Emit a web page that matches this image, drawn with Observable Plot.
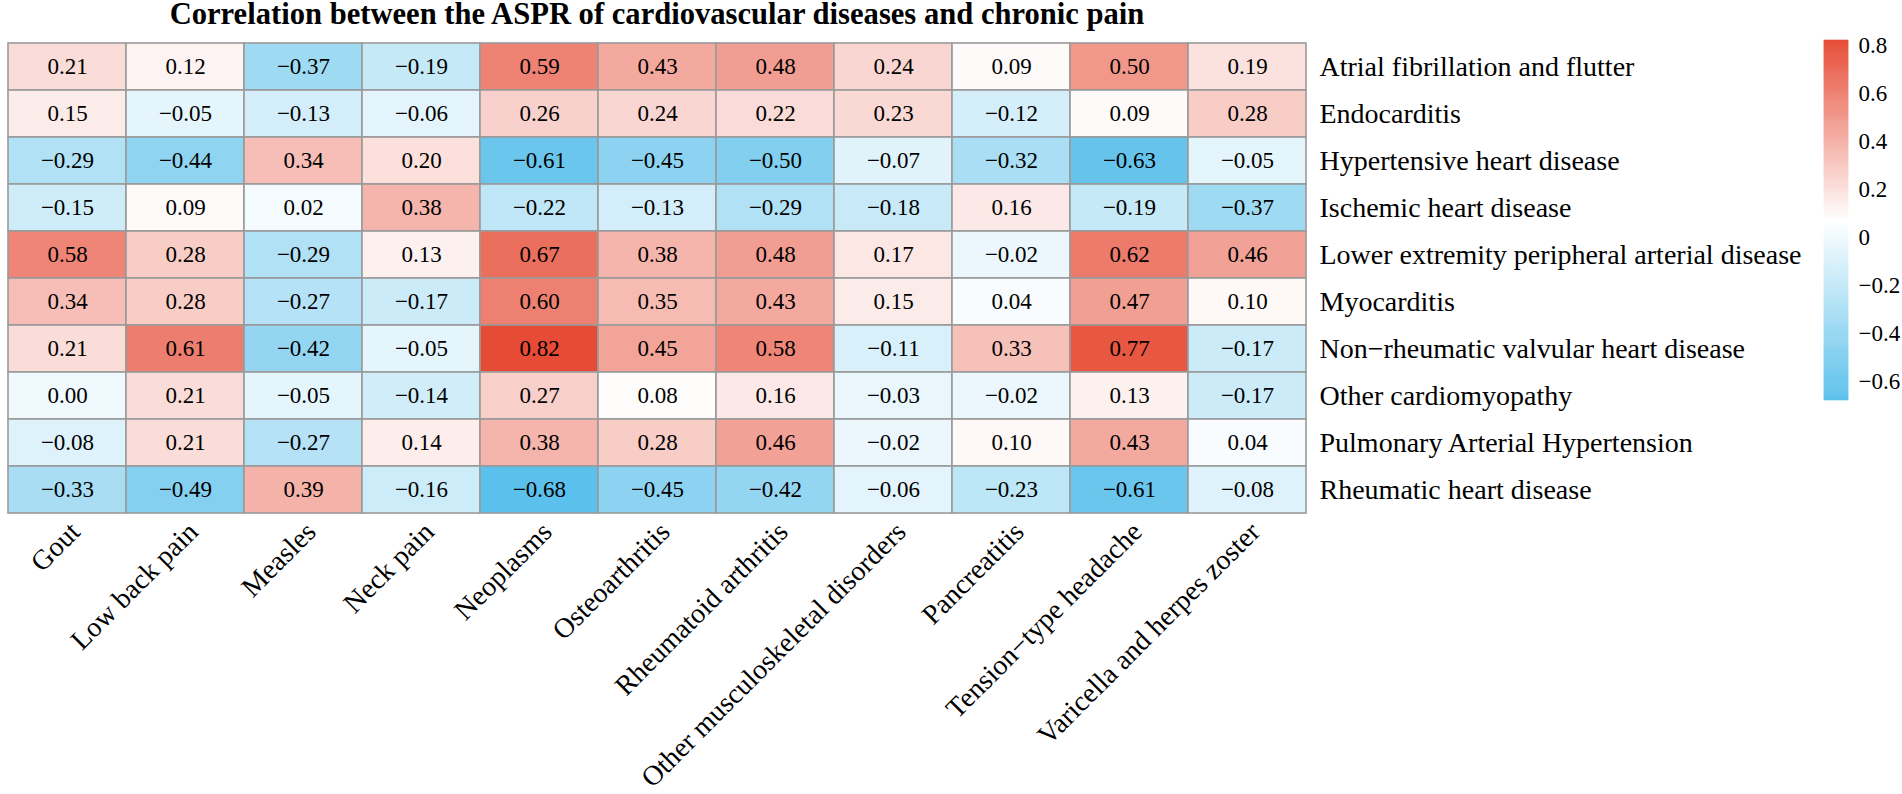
<!DOCTYPE html>
<html>
<head>
<meta charset="utf-8">
<script src="https://cdn.jsdelivr.net/npm/d3@7"></script>
<script src="https://cdn.jsdelivr.net/npm/@observablehq/plot@0.6"></script>
<style>
  html, body { margin: 0; padding: 0; background: #fff; overflow: hidden; }
  #wrap { position: relative; width: 1902px; height: 794px; }
  #wrap > * { position: absolute; top: 0; }
  #main { left: 0; }
  #legend { left: 1800px; }
  svg { overflow: visible; }
</style>
</head>
<body>
<div id="wrap"><div id="main"></div><div id="legend"></div></div>
<script>
const title = "Correlation between the ASPR of cardiovascular diseases and chronic pain";

const painCauses = ["Gout", "Low back pain", "Measles", "Neck pain", "Neoplasms", "Osteoarthritis",
  "Rheumatoid arthritis", "Other musculoskeletal disorders", "Pancreatitis",
  "Tension\u2212type headache", "Varicella and herpes zoster"];

const cvdCauses = ["Atrial fibrillation and flutter", "Endocarditis", "Hypertensive heart disease",
  "Ischemic heart disease", "Lower extremity peripheral arterial disease", "Myocarditis",
  "Non\u2212rheumatic valvular heart disease", "Other cardiomyopathy",
  "Pulmonary Arterial Hypertension", "Rheumatic heart disease"];

const atrialFibrillation   = [0.21, 0.12, -0.37, -0.19, 0.59, 0.43, 0.48, 0.24, 0.09, 0.50, 0.19];
const endocarditis         = [0.15, -0.05, -0.13, -0.06, 0.26, 0.24, 0.22, 0.23, -0.12, 0.09, 0.28];
const hypertensive         = [-0.29, -0.44, 0.34, 0.20, -0.61, -0.45, -0.50, -0.07, -0.32, -0.63, -0.05];
const ischemic             = [-0.15, 0.09, 0.02, 0.38, -0.22, -0.13, -0.29, -0.18, 0.16, -0.19, -0.37];
const lowerExtremity       = [0.58, 0.28, -0.29, 0.13, 0.67, 0.38, 0.48, 0.17, -0.02, 0.62, 0.46];
const myocarditis          = [0.34, 0.28, -0.27, -0.17, 0.60, 0.35, 0.43, 0.15, 0.04, 0.47, 0.10];
const nonRheumatic         = [0.21, 0.61, -0.42, -0.05, 0.82, 0.45, 0.58, -0.11, 0.33, 0.77, -0.17];
const otherCardiomyopathy  = [0.00, 0.21, -0.05, -0.14, 0.27, 0.08, 0.16, -0.03, -0.02, 0.13, -0.17];
const pulmonaryHypertension= [-0.08, 0.21, -0.27, 0.14, 0.38, 0.28, 0.46, -0.02, 0.10, 0.43, 0.04];
const rheumatic            = [-0.33, -0.49, 0.39, -0.16, -0.68, -0.45, -0.42, -0.06, -0.23, -0.61, -0.08];

const legendTicks = [-0.6, -0.4, -0.2, 0, 0.2, 0.4, 0.6, 0.8];

const rowsValues = [atrialFibrillation, endocarditis, hypertensive, ischemic, lowerExtremity,
  myocarditis, nonRheumatic, otherCardiomyopathy, pulmonaryHypertension, rheumatic];

const cells = [];
cvdCauses.forEach((r, i) => painCauses.forEach((c, j) => cells.push({row: r, col: c, value: rowsValues[i][j]})));

const vmin = d3.min(cells, d => d.value), vmax = d3.max(cells, d => d.value);
const colorScale = {
  type: "linear",
  domain: [vmin, (vmin + vmax) / 2, vmax],
  range: ["#5BC0EB", "#ffffff", "#E64B35"],
  interpolate: "rgb"
};

const fmt = d3.format(".2f");
const FONT = "'Liberation Serif', 'Times New Roman', serif";

const main = Plot.plot({
  width: 1902, height: 794,
  marginLeft: 3, marginRight: 592, marginTop: 40, marginBottom: 279,
  style: {fontFamily: FONT, fontSize: "23px", background: "white", color: "black", overflow: "visible"},
  x: {domain: painCauses, padding: 0, axis: null},
  y: {domain: cvdCauses, padding: 0, axis: null},
  color: colorScale,
  marks: [
    Plot.cell(cells, {x: "col", y: "row", fill: "value", stroke: "#9a9a9a", strokeWidth: 1.6}),
    Plot.text(cells, {x: "col", y: "row", text: d => fmt(d.value), fill: "black", fontSize: 23}),
    Plot.axisY({anchor: "right", tickSize: 0, tickPadding: 9, fontSize: 28, label: null, fill: "black"}),
    Plot.text(painCauses, {x: d => d, frameAnchor: "bottom", text: d => d, rotate: -45,
      textAnchor: "end", lineAnchor: "top", dx: 0, dy: 4, fontSize: 28, fill: "black"}),
    Plot.text([title], {frameAnchor: "top", text: d => d, lineAnchor: "bottom", dy: -17,
      fontSize: 30.6, fontWeight: "bold", fill: "black"})
  ]
});
document.getElementById("main").appendChild(main);

const step = 0.004;
const gradient = d3.range(vmin, vmax, step);
const legend = Plot.plot({
  width: 102, height: 420,
  marginLeft: 24, marginRight: 54, marginTop: 40, marginBottom: 20,
  style: {fontFamily: FONT, fontSize: "23px", background: "transparent", color: "black", overflow: "visible"},
  x: {domain: [0, 1], axis: null},
  y: {domain: [vmin, vmax], axis: null},
  color: colorScale,
  marks: [
    Plot.rect(gradient, {x1: 0, x2: 1, y1: d => d, y2: d => Math.min(vmax, d + step),
      fill: d => d + step / 2, stroke: d => d + step / 2, strokeWidth: 0.6}),
    Plot.axisY({anchor: "right", ticks: legendTicks, tickSize: 0, tickPadding: 10, fontSize: 23,
      label: null, fill: "black", tickFormat: d => d === 0 ? "0" : d3.format(".1f")(d)})
  ]
});
document.getElementById("legend").appendChild(legend);
</script>
</body>
</html>
